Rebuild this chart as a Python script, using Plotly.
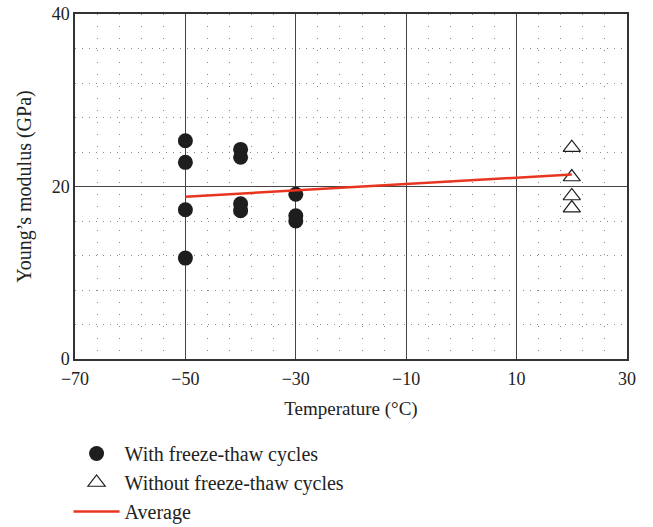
import plotly.graph_objects as go

# Data
ft_temp = [-50, -50, -50, -50, -40, -40, -40, -40, -30, -30, -30]
ft_modulus = [25.3, 22.8, 17.3, 11.7, 24.3, 23.4, 18.0, 17.2, 19.1, 16.6, 16.0]

noft_temp = [20, 20, 20, 20]
noft_modulus = [24.5, 21.1, 18.9, 17.5]

avg_temp = [-50, 20]
avg_modulus = [18.8, 21.4]

x_ticks = [-70, -50, -30, -10, 10, 30]
x_ticklabels = ["\u221270", "\u221250", "\u221230", "\u221210", "10", "30"]
y_ticks = [0, 20, 40]

FONT = "Liberation Serif"

fig = go.Figure()
fig.add_trace(go.Scatter(
    x=ft_temp, y=ft_modulus, mode="markers", name="With freeze-thaw cycles",
    marker=dict(symbol="circle", size=15, color="#1e1e1e"),
))
fig.add_trace(go.Scatter(
    x=noft_temp, y=noft_modulus, mode="markers", name="Without freeze-thaw cycles",
    marker=dict(symbol="triangle-up-open", size=15, color="#1e1e1e", line=dict(width=1.2)),
))
fig.add_trace(go.Scatter(
    x=avg_temp, y=avg_modulus, mode="lines", name="Average",
    line=dict(color="#e8351f", width=2.5),
))

fig.update_layout(
    width=653, height=527,
    margin=dict(l=75, r=26, t=14, b=168, autoexpand=False),
    plot_bgcolor="white", paper_bgcolor="white",
    font=dict(family=FONT, size=17, color="#222"),
    showlegend=True,
    legend=dict(
        x=0.105, xref="container", y=0.1765, yref="container",
        xanchor="left", yanchor="top",
        font=dict(family=FONT, size=20, color="#222"),
        tracegroupgap=0, itemwidth=46,
    ),
    annotations=[dict(
        text="Young\u2019s modulus (GPa)", textangle=-90,
        xref="paper", yref="paper", x=-0.092, y=0.5,
        xanchor="center", yanchor="middle", showarrow=False,
        font=dict(family=FONT, size=20, color="#222"),
    )],
)
fig.update_xaxes(
    range=[-70, 30], tickvals=x_ticks, ticktext=x_ticklabels,
    showline=True, linecolor="#333", linewidth=1.5, mirror=True,
    showgrid=True, gridcolor="#444", gridwidth=1,
    ticks="", zeroline=False, ticklabelstandoff=3,
    minor=dict(tick0=-70, dtick=4, showgrid=True, gridcolor="#888",
               griddash="1px,11px", gridwidth=1, ticks=""),
    title=dict(text="Temperature (\u00b0C)", font=dict(size=19), standoff=13),
    tickfont=dict(size=18),
)
fig.update_yaxes(
    range=[0, 40], tickvals=y_ticks,
    showline=True, linecolor="#333", linewidth=1.5, mirror=True,
    showgrid=True, gridcolor="#444", gridwidth=1,
    ticks="", zeroline=False,
    minor=dict(tick0=0, dtick=4, showgrid=True, gridcolor="#888",
               griddash="1px,6px", gridwidth=1, ticks=""),
    tickfont=dict(size=18),
)

fig.write_html("out.html")
